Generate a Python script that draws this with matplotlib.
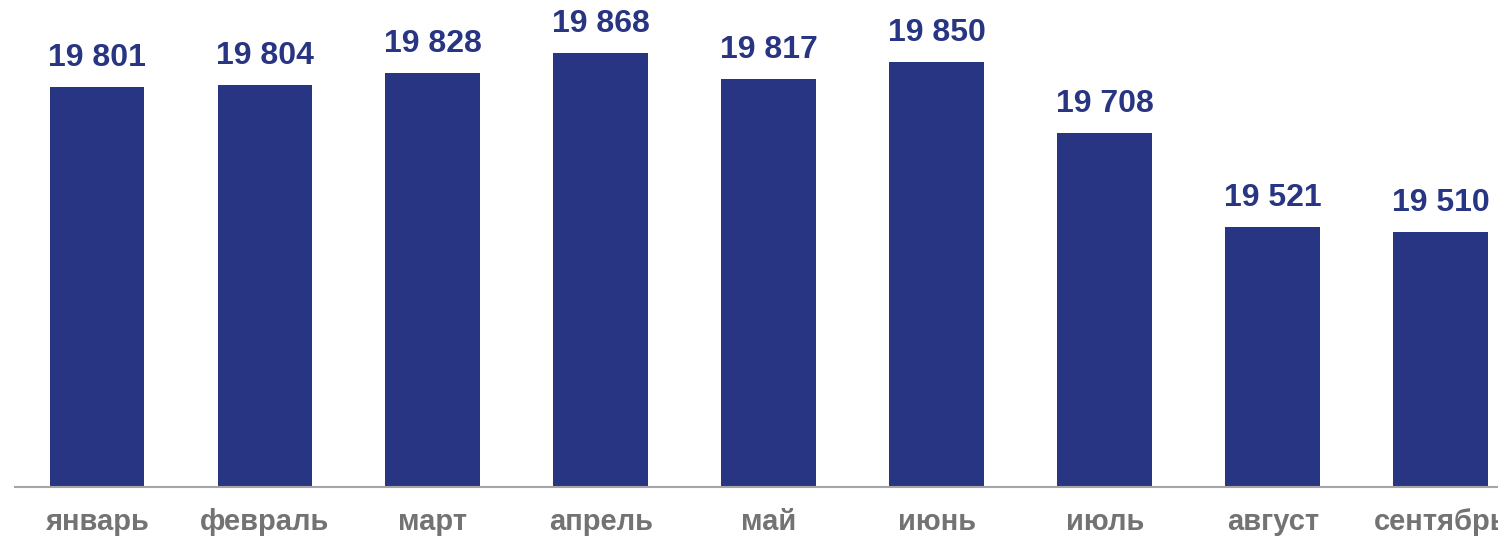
import matplotlib.pyplot as plt

# месяцы и значения
months = ['январь', 'февраль', 'март', 'апрель', 'май', 'июнь', 'июль', 'август', 'сентябрь']
values = [19801, 19804, 19828, 19868, 19817, 19850, 19708, 19521, 19510]

plt.rcParams['font.family'] = ['Liberation Sans', 'DejaVu Sans']

fig = plt.figure(figsize=(14.98, 5.37), dpi=100)
ax = fig.add_axes([15/1498, 50/537, 1 - 15/1498, 487/537])

x = range(len(months))
bars = ax.bar(x, values, width=0.565, color='#283583', zorder=2)

for xi, v in zip(x, values):
    s = '{:,}'.format(v).replace(',', ' ')
    ax.annotate(s, (xi, v), xytext=(0, 10), textcoords='offset points',
                ha='center', va='bottom', fontsize=23, fontweight='bold',
                color='#283583')

ax.set_xlim(-0.488, 8.34)
ax.set_ylim(19000, 19974)

ax.set_xticks(list(x))
ax.set_xticklabels(months, fontsize=21, fontweight='bold', color='#737373')
ax.tick_params(axis='x', length=0, pad=15)
ax.set_yticks([])

for sp in ['top', 'right', 'left']:
    ax.spines[sp].set_visible(False)
ax.spines['bottom'].set_color('#a6a6a6')
ax.spines['bottom'].set_linewidth(1.5)

fig.savefig('out.png')
